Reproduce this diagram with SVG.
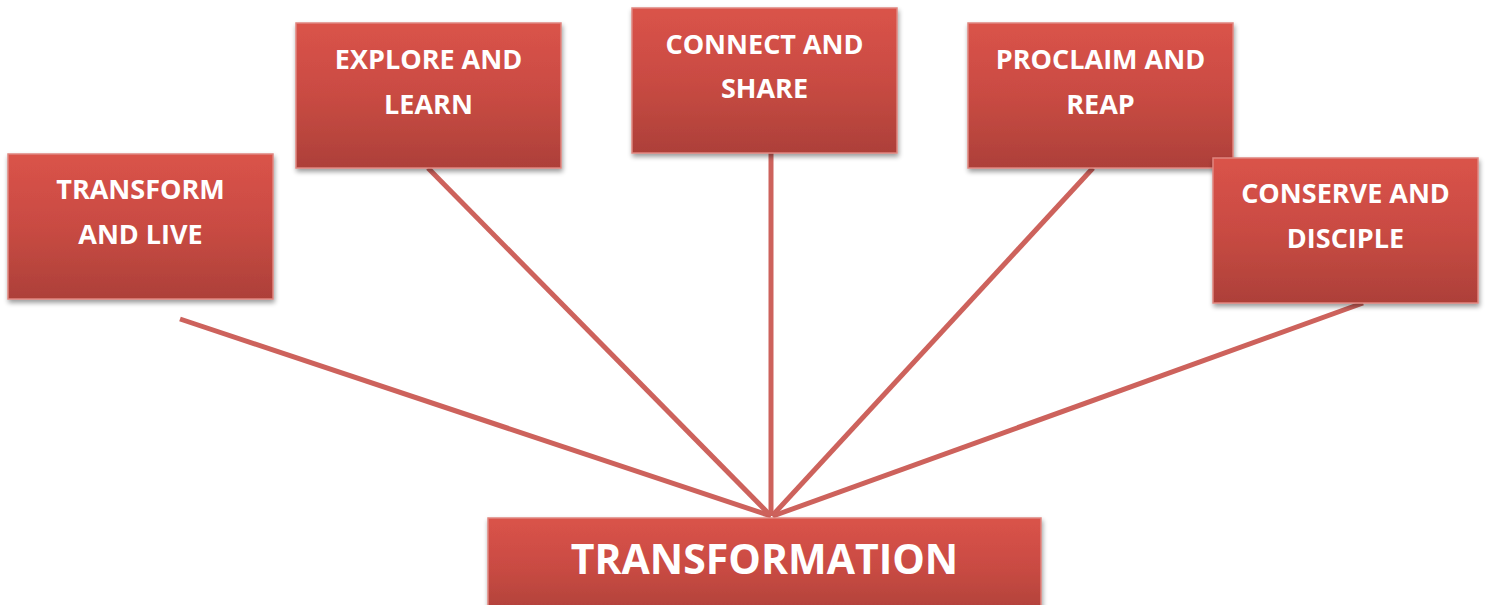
<svg xmlns="http://www.w3.org/2000/svg" width="1487" height="605" viewBox="0 0 1487 605">
<defs>
<linearGradient id="g" x1="0" y1="0" x2="0" y2="1">
<stop offset="0" stop-color="#da5349"/>
<stop offset="0.5" stop-color="#c94b43"/>
<stop offset="1" stop-color="#ad4039"/>
</linearGradient>
<filter id="sh" x="-10%" y="-10%" width="125%" height="130%">
<feGaussianBlur in="SourceAlpha" stdDeviation="2.5"/>
<feOffset dx="1" dy="3" result="b"/>
<feComponentTransfer><feFuncA type="linear" slope="0.4"/></feComponentTransfer>
<feMerge><feMergeNode/><feMergeNode in="SourceGraphic"/></feMerge>
</filter>
</defs>
<style>
.box{fill:url(#g);stroke:#e0857f;stroke-width:1.5;filter:url(#sh)}
.t{font-family:"Open Sans","Liberation Sans",sans-serif;font-weight:700;font-size:27px;fill:#fff;text-anchor:middle}
.big{font-size:41px}
.c{stroke:#cd625c;stroke-width:5;fill:none;stroke-linecap:butt}
</style>
<rect width="1487" height="605" fill="#fff"/>
<g id="connectors">
<line class="c" x1="180" y1="319" x2="771" y2="516"/>
<line class="c" x1="428" y1="168" x2="771" y2="516"/>
<line class="c" x1="771" y1="153" x2="771" y2="516"/>
<line class="c" x1="1093" y1="168" x2="772" y2="516"/>
<line class="c" x1="1363" y1="303" x2="773" y2="516"/>
</g>
<g id="n1"><rect class="box" x="8" y="154" width="265" height="145"/><text class="t" x="140.5" y="199">TRANSFORM</text><text class="t" x="140.5" y="244">AND LIVE</text></g>
<g id="n2"><rect class="box" x="296" y="23" width="265" height="145"/><text class="t" x="428.5" y="69">EXPLORE AND</text><text class="t" x="428.5" y="114">LEARN</text></g>
<g id="n3"><rect class="box" x="632" y="8" width="265" height="145"/><text class="t" x="764.5" y="54">CONNECT AND</text><text class="t" x="764.5" y="98">SHARE</text></g>
<g id="n4"><rect class="box" x="968" y="23" width="265" height="145"/><text class="t" x="1100.5" y="69">PROCLAIM AND</text><text class="t" x="1100.5" y="114">REAP</text></g>
<g id="n5"><rect class="box" x="1213" y="158" width="265" height="145"/><text class="t" x="1345.5" y="203">CONSERVE AND</text><text class="t" x="1345.5" y="248">DISCIPLE</text></g>
<g id="main"><rect class="box" x="488" y="518" width="553" height="100"/><text class="t big" x="764.5" y="574">TRANSFORMATION</text></g>
</svg>
